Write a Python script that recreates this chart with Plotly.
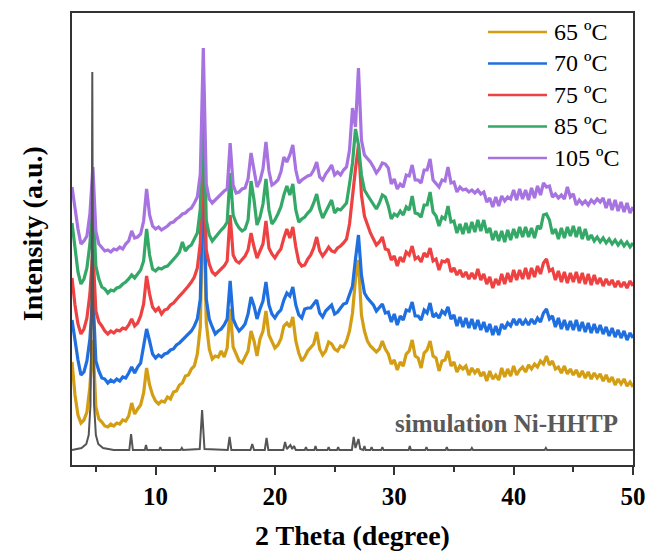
import numpy as np
import plotly.graph_objects as go

# 2-theta scan positions (0.25 degree step)
TWO_THETA = np.round(np.arange(3.0, 50.0 + 1e-9, 0.25), 2)

# Intensities (a.u., stacked/offset as in the figure)
I_65 = [
    103, 70, 50, 42, 45, 53, 78, 125,
    58, 46, 43, 39, 38, 41, 39, 42,
    41, 45, 44, 49, 62, 51, 56, 60,
    72, 97, 80, 70, 64, 61, 64, 63,
    68, 66, 73, 74, 80, 82, 89, 90,
    96, 99, 111, 138, 280, 142, 116, 106,
    109, 108, 114, 108, 117, 156, 118, 111,
    104, 102, 108, 114, 134, 124, 109, 126,
    134, 154, 130, 124, 117, 120, 126, 139,
    142, 138, 148, 124, 112, 104, 108, 114,
    118, 121, 133, 116, 110, 114, 123, 121,
    116, 114, 119, 118, 124, 134, 152, 186,
    205, 150, 134, 124, 119, 116, 113, 116,
    124, 116, 111, 101, 105, 95, 103, 99,
    111, 114, 125, 109, 107, 97, 112, 115,
    124, 109, 107, 94, 104, 105, 114, 99,
    103, 93, 99, 96, 99, 90, 97, 92,
    96, 89, 93, 84, 94, 86, 90, 85,
    97, 88, 96, 89, 99, 90, 95, 98,
    93, 100, 96, 101, 98, 104, 101, 109,
    100, 104, 96, 98, 92, 99, 91, 96,
    90, 95, 88, 94, 87, 93, 86, 92,
    87, 91, 84, 90, 83, 88, 80, 86,
    81, 86, 79, 83, 78,
]

I_70 = [
    145, 122, 105, 90, 93, 104, 126, 172,
    104, 94, 87, 86, 82, 85, 83, 86,
    84, 88, 87, 92, 98, 92, 98, 102,
    118, 136, 124, 111, 107, 110, 108, 111,
    112, 115, 116, 120, 122, 125, 128, 131,
    134, 139, 146, 166, 300, 166, 146, 138,
    131, 134, 136, 140, 146, 184, 146, 139,
    134, 137, 141, 151, 168, 159, 146, 156,
    164, 183, 160, 151, 147, 152, 155, 165,
    172, 169, 178, 160, 150, 147, 156, 157,
    157, 161, 165, 152, 148, 154, 157, 160,
    151, 153, 157, 161, 162, 170, 179, 206,
    230, 190, 172, 167, 163, 160, 154, 158,
    161, 152, 153, 143, 151, 140, 149, 145,
    155, 154, 163, 149, 149, 145, 155, 152,
    162, 148, 151, 147, 154, 151, 158, 146,
    150, 139, 148, 138, 147, 137, 146, 136,
    145, 135, 143, 133, 141, 130, 139, 130,
    141, 136, 142, 139, 146, 140, 146, 140,
    145, 140, 146, 141, 147, 143, 152, 156,
    146, 149, 138, 147, 136, 145, 135, 144,
    135, 145, 134, 143, 133, 142, 132, 141,
    132, 140, 131, 138, 129, 137, 128, 135,
    127, 134, 125, 132, 127,
]

I_75 = [
    187, 160, 141, 131, 136, 147, 171, 216,
    154, 143, 139, 134, 131, 134, 132, 135,
    134, 137, 136, 140, 146, 139, 142, 149,
    161, 189, 171, 158, 154, 157, 151, 155,
    156, 160, 162, 166, 169, 172, 175, 179,
    183, 188, 197, 222, 325, 215, 201, 193,
    190, 193, 195, 199, 204, 250, 210, 204,
    202, 206, 209, 215, 232, 218, 207, 214,
    221, 244, 217, 211, 207, 212, 216, 227,
    236, 227, 238, 218, 203, 199, 200, 206,
    210, 217, 228, 214, 209, 213, 218, 214,
    213, 217, 219, 222, 226, 241, 271, 296,
    320, 270, 249, 240, 232, 226, 220, 223,
    228, 216, 215, 205, 209, 199, 208, 203,
    213, 210, 219, 206, 208, 203, 212, 208,
    217, 204, 206, 195, 204, 203, 206, 193,
    197, 190, 195, 188, 193, 186, 192, 186,
    196, 185, 191, 181, 188, 177, 186, 180,
    191, 181, 192, 183, 195, 185, 195, 186,
    197, 186, 197, 188, 199, 191, 202, 206,
    194, 196, 185, 194, 183, 193, 182, 192,
    183, 193, 182, 192, 181, 191, 180, 190,
    181, 187, 179, 186, 180, 185, 178, 184,
    178, 183, 177, 184, 179,
]

I_85 = [
    242, 214, 193, 181, 186, 197, 221, 266,
    199, 186, 178, 176, 172, 175, 174, 177,
    178, 181, 183, 186, 190, 187, 191, 195,
    204, 236, 210, 196, 194, 197, 196, 198,
    199, 202, 205, 209, 213, 223, 214, 218,
    220, 226, 232, 256, 370, 245, 230, 224,
    228, 231, 235, 238, 243, 292, 250, 242,
    237, 234, 236, 245, 284, 265, 240, 248,
    261, 286, 255, 241, 245, 251, 258, 270,
    279, 270, 281, 255, 243, 246, 248, 252,
    255, 262, 271, 256, 247, 253, 260, 265,
    252, 256, 255, 259, 262, 281, 302, 336,
    320, 290, 275, 270, 265, 260, 256, 262,
    270, 268, 259, 246, 251, 249, 254, 250,
    258, 255, 269, 252, 251, 248, 260, 260,
    273, 253, 249, 239, 248, 246, 259, 243,
    244, 232, 241, 231, 242, 232, 243, 233,
    245, 234, 245, 232, 237, 225, 234, 224,
    234, 223, 235, 225, 236, 227, 238, 228,
    238, 228, 237, 227, 239, 236, 250, 251,
    245, 231, 236, 226, 237, 227, 238, 229,
    239, 228, 238, 226, 236, 225, 230, 224,
    228, 223, 227, 222, 226, 221, 225, 220,
    224, 219, 223, 218, 222,
]

I_105 = [
    278, 254, 236, 221, 224, 229, 251, 298,
    234, 221, 217, 214, 215, 213, 216, 215,
    218, 216, 221, 224, 234, 227, 228, 231,
    244, 276, 250, 239, 236, 238, 235, 237,
    239, 242, 243, 246, 248, 251, 252, 255,
    257, 262, 268, 291, 417, 281, 266, 262,
    265, 268, 272, 274, 276, 322, 280, 272,
    273, 276, 277, 286, 312, 295, 278, 284,
    296, 323, 294, 280, 282, 285, 293, 308,
    303, 310, 320, 295, 282, 285, 287, 289,
    290, 295, 303, 288, 285, 291, 295, 300,
    290, 293, 290, 295, 298, 315, 357, 338,
    397, 325, 310, 307, 303, 298, 292, 296,
    302, 301, 297, 281, 286, 276, 281, 278,
    290, 289, 300, 285, 285, 282, 295, 295,
    306, 285, 281, 278, 285, 284, 298, 282,
    283, 273, 278, 275, 276, 273, 275, 272,
    275, 271, 273, 263, 267, 258, 268, 259,
    269, 264, 268, 266, 275, 265, 276, 266,
    275, 265, 277, 267, 279, 270, 282, 278,
    279, 268, 271, 267, 270, 266, 278, 268,
    271, 260, 265, 261, 264, 260, 265, 262,
    266, 263, 267, 257, 266, 255, 265, 254,
    263, 253, 262, 252, 258,
]

# Simulated Ni-HHTP pattern (2theta, intensity)
SIM_PATTERN = [
    (3.0, 15), (3.8, 17), (4.2, 21), (4.4, 30), (4.55, 60), (4.65, 200),
    (4.7, 393), (4.75, 200), (4.85, 60), (5.0, 30), (5.2, 21), (5.6, 17),
    (6.5, 15), (7.8, 15), (7.95, 31), (8.1, 15), (9.1, 15), (9.2, 20),
    (9.3, 15), (10.3, 15), (10.4, 18), (10.5, 15), (12.1, 15), (12.2, 17),
    (12.3, 15), (13.7, 16), (13.9, 55), (14.1, 16), (16.05, 15), (16.2, 28),
    (16.35, 15), (17.95, 15), (18.1, 21), (18.25, 15), (19.15, 15), (19.3, 27),
    (19.45, 15), (20.7, 15), (20.85, 23), (21.0, 16), (21.3, 20), (21.45, 16),
    (21.6, 19), (21.75, 15), (22.5, 15), (22.6, 18), (22.7, 15), (23.3, 15),
    (23.4, 19), (23.5, 15), (24.4, 15), (24.5, 18), (24.6, 15), (25.2, 15),
    (25.3, 18), (25.4, 15), (26.45, 15), (26.6, 28), (26.75, 17), (27.0, 26),
    (27.15, 16), (27.4, 15), (27.5, 19), (27.6, 15), (28.0, 15), (28.1, 18),
    (28.2, 15), (28.9, 15), (29.0, 18), (29.1, 15), (31.2, 15), (31.3, 19),
    (31.4, 15), (32.6, 15), (32.7, 18), (32.8, 15), (34.3, 15), (34.4, 18),
    (34.5, 15), (36.4, 15), (36.5, 17), (36.6, 15), (42.6, 15), (42.7, 17),
    (42.8, 15), (50.0, 15),
]

SERIES_NAMES = ["65 \u00baC", "70 \u00baC", "75 \u00baC", "85 \u00baC", "105 \u00baC"]
SERIES_VALUES = [I_65, I_70, I_75, I_85, I_105]
SERIES_COLORS = ["#D49E14", "#1F6FE0", "#EE4242", "#34A867", "#A773E0"]
SIM_LABEL = "simulation Ni-HHTP"
X_TICKS = [10, 20, 30, 40, 50]
X_MINOR = [5, 15, 25, 35, 45]

for v in SERIES_VALUES:
    assert len(v) == len(TWO_THETA), (len(v), len(TWO_THETA))

fig = go.Figure()
for name, vals, col in zip(SERIES_NAMES, SERIES_VALUES, SERIES_COLORS):
    fig.add_trace(go.Scatter(x=TWO_THETA, y=vals, mode="lines", name=name,
                             line=dict(color=col, width=3.2)))

sim_x = [p[0] for p in SIM_PATTERN]
sim_y = [p[1] for p in SIM_PATTERN]
fig.add_trace(go.Scatter(x=sim_x, y=sim_y, mode="lines", name=SIM_LABEL,
                         line=dict(color="#555555", width=2)))

FONT = "Liberation Serif, Times New Roman, serif"
AX = "#333333"

fig.update_layout(
    width=650, height=558,
    margin=dict(l=72, r=17, t=13, b=93),
    plot_bgcolor="white", paper_bgcolor="white",
    showlegend=False,
    font=dict(family=FONT, color="black"),
)
fig.update_xaxes(
    range=[3, 50], tickvals=X_TICKS, ticks="outside", ticklen=8, tickwidth=1.5,
    tickcolor=AX, showline=True, linecolor=AX, linewidth=1.5, mirror=True,
    showgrid=False, zeroline=False, automargin=False,
    tickfont=dict(family=FONT, size=25, weight="bold", color="black"),
    minor=dict(tickvals=X_MINOR, ticks="outside", ticklen=5, tickwidth=1.5,
               tickcolor=AX, showgrid=False),
)
fig.update_yaxes(
    range=[0, 452], showticklabels=False, ticks="", showline=True,
    linecolor=AX, linewidth=1.5, mirror=True, showgrid=False, zeroline=False,
    automargin=False,
)

annotations = [
    dict(text="2 Theta (degree)", xref="paper", yref="paper", x=0.5, y=-0.155,
         xanchor="center", yanchor="middle", showarrow=False,
         font=dict(family=FONT, size=28, weight="bold", color="black")),
    dict(text="Intensity (a.u.)", xref="paper", yref="paper", x=-0.071, y=0.511,
         xanchor="center", yanchor="middle", showarrow=False, textangle=-90,
         font=dict(family=FONT, size=28, weight="bold", color="black")),
    dict(text=SIM_LABEL, xref="paper", yref="paper", x=0.976, y=0.091,
         xanchor="right", yanchor="middle", showarrow=False,
         font=dict(family=FONT, size=25, weight="bold", color="#595959")),
]
shapes = []
row_y0 = 0.958
row_dy = 0.0697
for i, (name, col) in enumerate(zip(SERIES_NAMES, SERIES_COLORS)):
    yy = row_y0 - i * row_dy
    shapes.append(dict(type="line", xref="paper", yref="paper", x0=0.7415, x1=0.8467,
                       y0=yy, y1=yy, line=dict(color=col, width=2.6)))
    annotations.append(dict(text=name, xref="paper", yref="paper", x=0.855, y=yy,
                            xanchor="left", yanchor="middle", showarrow=False,
                            font=dict(family=FONT, size=24, color="black")))
fig.update_layout(annotations=annotations, shapes=shapes)

fig.write_html("out.html")
